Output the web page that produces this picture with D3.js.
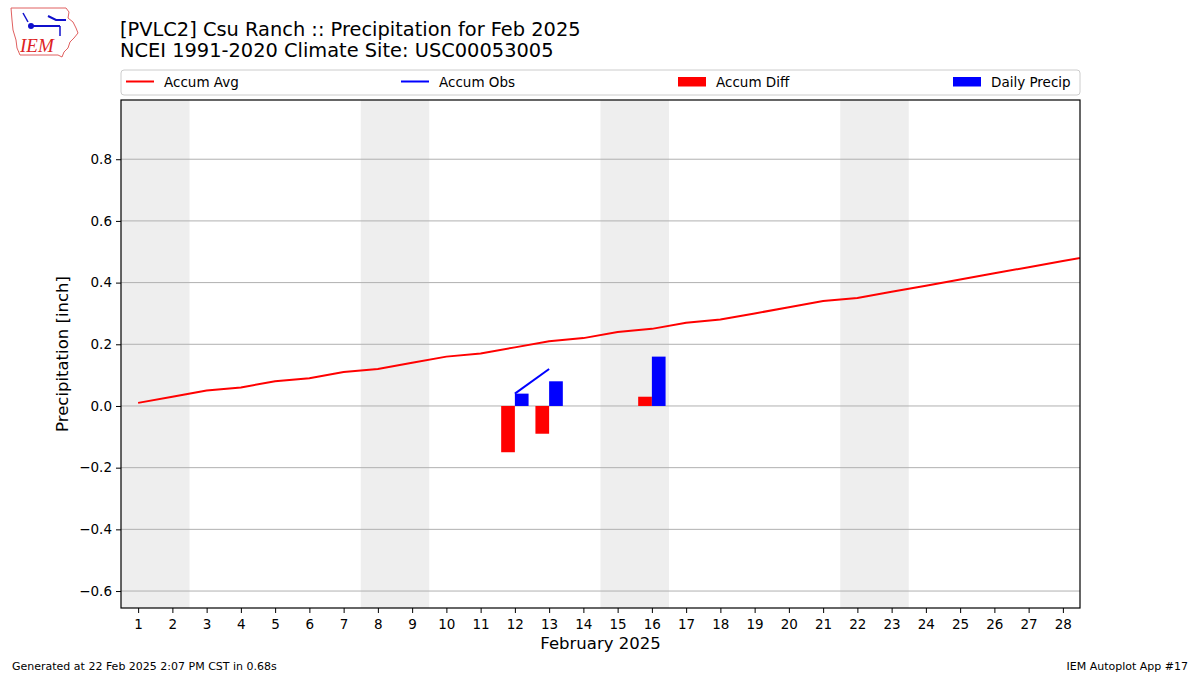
<!DOCTYPE html>
<html><head><meta charset="utf-8">
<script src="https://cdn.jsdelivr.net/npm/d3@7"></script>
<style>body{margin:0;background:#fff;} svg{font-family:"DejaVu Sans",sans-serif;}</style>
</head><body>
<svg id="c" width="1200" height="675"></svg>
<script>
const days = d3.range(1, 30);
const accumAvg = [0.01,0.03,0.05,0.06,0.08,0.09,0.11,0.12,0.14,0.16,0.17,0.19,0.21,0.22,0.24,0.25,0.27,0.28,0.30,0.32,0.34,0.35,0.37,0.39,0.41,0.43,0.45,0.47,0.49];
const accumObs = [null,null,null,null,null,null,null,null,null,null,null,0.04,0.12,null,null,0.28,null,null,null,null,null,null,null,null,null,null,null,null,null];
const accumDiff = [null,null,null,null,null,null,null,null,null,null,null,-0.15,-0.09,null,null,0.03,null,null,null,null,null,null,null,null,null,null,null,null,null];
const dailyPrecip = [null,null,null,null,null,null,null,null,null,null,null,0.04,0.08,null,null,0.16,null,null,null,null,null,null,null,null,null,null,null,null,null];
const weekends = [[1,2],[8,9],[15,16],[22,23]];
const xTicks = d3.range(1, 29);
const yTicks = [-0.6,-0.4,-0.2,0.0,0.2,0.4,0.6,0.8];

const svg = d3.select("#c");
const L=121, R=1080, T=100, B=608;
const x = d3.scaleLinear().domain([0.5, 28.5]).range([L, R]);
const y = d3.scaleLinear().domain([-0.655, 0.992]).range([B, T]);

svg.append("defs").append("clipPath").attr("id","clip")
  .append("rect").attr("x",L).attr("y",T).attr("width",R-L).attr("height",B-T);

const g = svg.append("g").attr("clip-path","url(#clip)");
g.selectAll(".wk").data(weekends).enter().append("rect")
  .attr("x", d=>x(d[0]-0.5)).attr("width", d=>x(d[1]+0.5)-x(d[0]-0.5))
  .attr("y",T).attr("height",B-T).attr("fill","#eeeeee");

// grid
g.selectAll(".gr").data(yTicks).enter().append("line")
  .attr("x1",L).attr("x2",R).attr("y1",d=>y(d)).attr("y2",d=>y(d))
  .attr("stroke","#b0b0b0").attr("stroke-width",1);

// bars
const diffData = days.map((d,i)=>({d, v: accumDiff[i]})).filter(e=>e.v!==null);
g.selectAll(".df").data(diffData).enter().append("rect")
  .attr("x", e=>x(e.d-0.4)).attr("width", e=>x(e.d)-x(e.d-0.4))
  .attr("y", e=>y(Math.max(0,e.v))).attr("height", e=>Math.abs(y(e.v)-y(0)))
  .attr("fill","#ff0000");
const prData = days.map((d,i)=>({d, v: dailyPrecip[i]})).filter(e=>e.v!==null);
g.selectAll(".pr").data(prData).enter().append("rect")
  .attr("x", e=>x(e.d)).attr("width", e=>x(e.d+0.4)-x(e.d))
  .attr("y", e=>y(Math.max(0,e.v))).attr("height", e=>Math.abs(y(e.v)-y(0)))
  .attr("fill","#0000ff");

// lines
const line = d3.line().defined(e=>e.v!==null).x(e=>x(e.d)).y(e=>y(e.v));
g.append("path").datum(days.map((d,i)=>({d, v: accumAvg[i]})))
  .attr("d", line).attr("fill","none").attr("stroke","#ff0000").attr("stroke-width",2);
g.append("path").datum(days.map((d,i)=>({d, v: accumObs[i]})))
  .attr("d", line).attr("fill","none").attr("stroke","#0000ff").attr("stroke-width",2);

// frame
svg.append("rect").attr("x",L).attr("y",T).attr("width",R-L).attr("height",B-T)
  .attr("fill","none").attr("stroke","#000").attr("stroke-width",1.2);

// axes
const xa = svg.append("g").attr("transform",`translate(0,${B})`)
  .call(d3.axisBottom(x).tickValues(xTicks).tickFormat(d3.format("d")).tickSize(5).tickPadding(6));
const ya = svg.append("g").attr("transform",`translate(${L},0)`)
  .call(d3.axisLeft(y).tickValues(yTicks).tickFormat(d=>d3.format(".1f")(d).replace("-","\u2212")).tickSize(5).tickPadding(4));
[xa,ya].forEach(a=>{
  a.select(".domain").remove();
  a.selectAll("text").attr("font-size",13.5).attr("fill","#000").attr("font-family","DejaVu Sans");
  a.selectAll("line").attr("stroke","#000");
});

// labels
svg.append("text").attr("x",(L+R)/2).attr("y",649).attr("text-anchor","middle")
  .attr("font-size",16.5).text("February 2025");
svg.append("text").attr("transform",`translate(68,${(T+B)/2}) rotate(-90)`).attr("text-anchor","middle")
  .attr("font-size",16.5).text("Precipitation [inch]");

// title
svg.append("text").attr("x",120).attr("y",36).attr("font-size",19.4).text("[PVLC2] Csu Ranch :: Precipitation for Feb 2025");
svg.append("text").attr("x",120).attr("y",57).attr("font-size",19.4).text("NCEI 1991-2020 Climate Site: USC00053005");

// legend
svg.append("rect").attr("x",121).attr("y",70).attr("width",959).attr("height",25).attr("rx",3)
  .attr("fill","#fff").attr("stroke","#cccccc");
const legend = [
  {name:"Accum Avg", type:"line", color:"#ff0000", x:126},
  {name:"Accum Obs", type:"line", color:"#0000ff", x:401},
  {name:"Accum Diff", type:"rect", color:"#ff0000", x:678},
  {name:"Daily Precip", type:"rect", color:"#0000ff", x:953}
];
legend.forEach(l=>{
  if(l.type==="line") svg.append("line").attr("x1",l.x).attr("x2",l.x+28).attr("y1",81.5).attr("y2",81.5).attr("stroke",l.color).attr("stroke-width",2);
  else svg.append("rect").attr("x",l.x).attr("y",77).attr("width",28).attr("height",9.5).attr("fill",l.color);
  svg.append("text").attr("x",l.x+38).attr("y",86.5).attr("font-size",13.5).text(l.name);
});

// footer
svg.append("text").attr("x",12).attr("y",670).attr("font-size",11).text("Generated at 22 Feb 2025 2:07 PM CST in 0.68s");
svg.append("text").attr("x",1188).attr("y",670).attr("font-size",11).attr("text-anchor","end").text("IEM Autoplot App #17");

// logo
const lg = svg.append("g");
lg.append("path").attr("d","M11,8 L66,8 L69,12 L68,18 L73,22 L76,28 L78,33 L74,38 L70,42 L68,48 L64,52 L62,57 L58,55 L20,55 L17,48 L16,40 L13,30 L12,20 Z")
  .attr("fill","none").attr("stroke","#e06060").attr("stroke-width",1);
lg.append("line").attr("x1",31).attr("x2",60).attr("y1",26).attr("y2",26).attr("stroke","#1010cc").attr("stroke-width",2);
lg.append("circle").attr("cx",31).attr("cy",26).attr("r",3).attr("fill","#1010cc");
lg.append("path").attr("d","M23,13 L28,22").attr("stroke","#1010cc").attr("stroke-width",1.5);
lg.append("path").attr("d","M48,16 L56,20 L66,20").attr("stroke","#1010cc").attr("stroke-width",2).attr("fill","none");
lg.append("path").attr("d","M60,26 L60,36").attr("stroke","#1010cc").attr("stroke-width",1.5);
lg.append("text").attr("x",20).attr("y",52).attr("font-family","Liberation Serif").attr("font-style","italic")
  .attr("font-size",19).attr("fill","#dd2222").text("IEM");
</script>
</body></html>
